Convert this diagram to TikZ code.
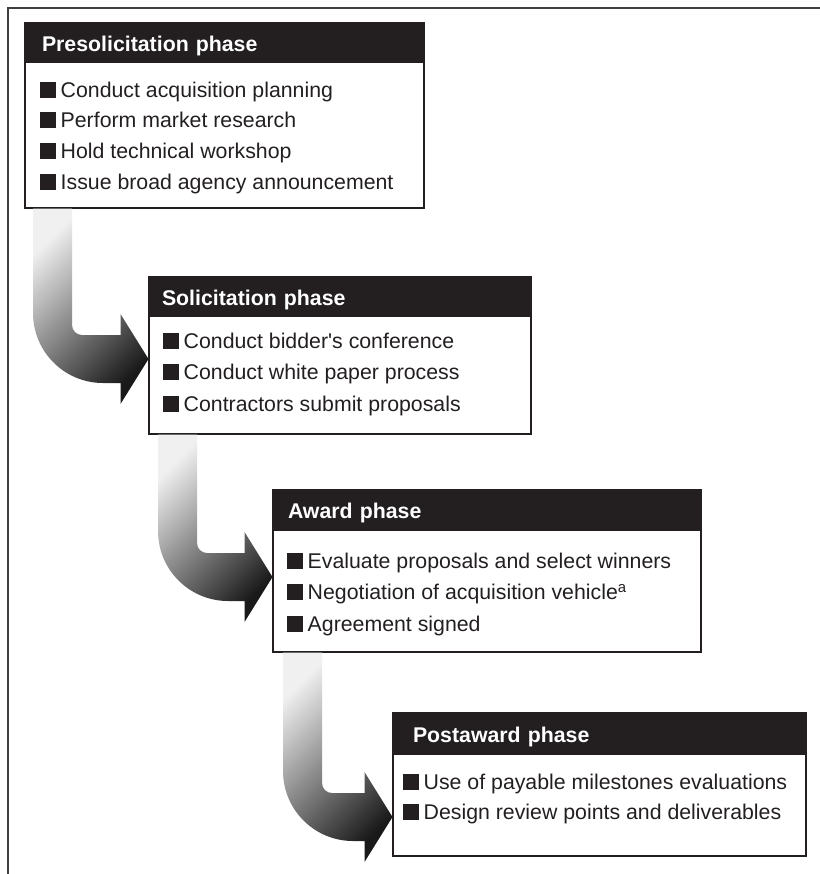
\documentclass[tikz,border=0pt]{standalone}
\usepackage{fontspec}
\setmainfont{Liberation Sans}
\usetikzlibrary{calc}
\definecolor{inkblack}{HTML}{231F20}
\newcommand{\itembox}{\textcolor{inkblack}{\rule[-0.5bp]{15.5bp}{16bp}}\hspace{5bp}}
% bent arrow: #1 = top left of the shaft, #2 = tip
\newcommand{\phasearrow}[2]{%
  \shade[flowarrow] let \p1=(#1), \p2=(#2) in
    (\x1,\y1) -- (\x1+39bp,\y1) -- (\x1+39bp,\y2+34bp)
    arc[start angle=180,end angle=270,radius=10bp]
    -- (\x2-28bp,\y2+24bp) -- (\x2-28bp,\y2+45bp) -- (\x2,\y2)
    -- (\x2-28bp,\y2-45bp) -- (\x2-28bp,\y2-24bp) -- (\x1+70bp,\y2-24bp)
    arc[start angle=270,end angle=180,radius=70bp] -- cycle;}
\begin{document}
\begin{tikzpicture}[x=1bp,y=-1bp,
  phasebox/.style={draw=inkblack,line width=1.4bp,anchor=north west,inner sep=0pt,outer sep=0pt},
  phasehead/.style={fill=inkblack,text=white,anchor=north west,font=\fontsize{21.3bp}{25bp}\selectfont\bfseries,
    align=left,text height=16bp,text depth=0bp,inner ysep=0pt,outer sep=0pt},
  phaseitem/.style={anchor=base west,inner sep=0pt,font=\fontsize{21.3bp}{25bp}\selectfont,text=inkblack},
  flowarrow/.style={top color=black!6,bottom color=black!90,shading angle=45},
  frameline/.style={draw=black!75,line width=2bp}]
\useasboundingbox (0,0) rectangle (820,874);
\draw[frameline] (8,874) -- (8,8) -- (820,8);

% phase boxes
\node[phasebox,minimum width=399bp,minimum height=185bp] (pre) at (25,23) {};
\node[phasehead,minimum width=399bp,minimum height=40bp,text width=365bp,inner xsep=17bp] (prehead) at (pre.north west) {Presolicitation phase};
\foreach \txt [count=\i] in {Conduct acquisition planning,Perform market research,Hold technical workshop,Issue broad agency announcement}
  \node[phaseitem] (pre-\i) at (40,{66.3+30.7*\i}) {\itembox\txt};

\node[phasebox,minimum width=382bp,minimum height=157bp] (sol) at (149,277) {};
\node[phasehead,minimum width=382bp,minimum height=40bp,text width=356bp,inner xsep=13bp] (solhead) at (sol.north west) {Solicitation phase};
\foreach \txt [count=\i] in {Conduct bidder\textquotesingle s conference,Conduct white paper process,Contractors submit proposals}
  \node[phaseitem] (sol-\i) at (163,{316.5+31.5*\i}) {\itembox\txt};

\node[phasebox,minimum width=428bp,minimum height=162bp] (awd) at (273,490) {};
\node[phasehead,minimum width=428bp,minimum height=41bp,text width=398bp,inner xsep=15bp] (awdhead) at (awd.north west) {Award phase};
\foreach \txt [count=\i] in {Evaluate proposals and select winners,Negotiation of acquisition vehicle\textsuperscript{a},Agreement signed}
  \node[phaseitem] (awd-\i) at (287,{536.5+31.5*\i}) {\itembox\txt};

\node[phasebox,minimum width=413bp,minimum height=143bp] (post) at (393,713) {};
\node[phasehead,minimum width=413bp,minimum height=42bp,text width=373bp,inner xsep=20bp] (posthead) at (post.north west) {Postaward phase};
\foreach \txt [count=\i] in {Use of payable milestones evaluations,Design review points and deliverables}
  \node[phaseitem] (post-\i) at (403,{759+30*\i}) {\itembox\txt};

% arrows between phases
\phasearrow{$(pre.south west)+(8,0.7)$}{$(sol.north west)+(-0.5,82)$}
\phasearrow{$(sol.south west)+(9,0.7)$}{$(awd.north west)+(-0.5,87)$}
\phasearrow{$(awd.south west)+(10,0.7)$}{$(post.north west)+(-0.5,104)$}
\end{tikzpicture}
\end{document}
